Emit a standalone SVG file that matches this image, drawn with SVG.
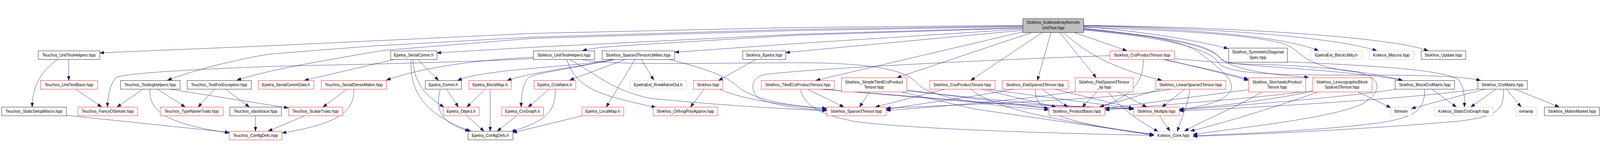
<svg xmlns="http://www.w3.org/2000/svg" width="5167" height="405" viewBox="0 0 5167 405">
<style>
svg{width:100vw;height:100vh}
.node rect{fill:#ffffff;stroke-width:1}
.r rect{stroke:#ff0000}
.k rect{stroke:#000000}
.g rect{stroke:#bfbfbf}
.root rect{fill:#bfbfbf;stroke:#000000}
.node text{font-family:"Liberation Sans",Arial,Helvetica,sans-serif;font-size:13px;fill:#000;text-anchor:middle}
#edges path{fill:none;stroke:#191970;stroke-width:1;marker-end:url(#ah)}
</style>
<defs>
<marker id="ah" markerUnits="userSpaceOnUse" markerWidth="16" markerHeight="12" refX="13" refY="5" orient="auto" overflow="visible">
<path d="M0,0.3 L13,5 L0,9.7 z" fill="#191970" stroke="#191970" stroke-width="1"/>
</marker>
</defs>
<rect x="0" y="0" width="5167" height="405" fill="#ffffff"/>
<g id="edges">
<path d="M3303,29 L2570,36 L1720,55 L870,95 L322,118"/>
<path d="M3303,31 L2570,42 L1720,67 L1200,96 L870,122 C760,140 640,170 541,206"/>
<path d="M3303,33 L2570,46 L1720,71 L1238,110 C1120,130 1016,148 930,165 C850,182 800,195 765,206"/>
<path d="M3303,36 L2570,58 L1720,100 L1411,118"/>
<path d="M3303,38 L2570,61 L2090,90 C1980,97 1920,100 1881,111"/>
<path d="M3303,41 L2570,88 L2179,116"/>
<path d="M3303,45 L2537,117"/>
<path d="M3303,50 L2635,207"/>
<path d="M3333,52 L2897,198"/>
<path d="M3366,52 L3135,207"/>
<path d="M3394,52 L3350,207"/>
<path d="M3422,52 L3540,198"/>
<path d="M3433,52 C3490,100 3560,160 3752,207"/>
<path d="M3469,52 L3639,111"/>
<path d="M3499,33 C3700,50 3850,75 3966,104"/>
<path d="M3499,31 C3900,42 4160,70 4258,111"/>
<path d="M3499,30 C3950,38 4320,70 4446,111"/>
<path d="M3499,29 C4050,36 4500,70 4612,111"/>
<path d="M3499,38 C3700,60 3820,80 3870,115 C3930,160 3990,205 3975,240 C3955,275 3890,290 3809,302"/>
<path d="M3499,40 C3750,65 3890,85 3930,125 C3965,165 4050,185 4226,197"/>
<path d="M3499,42 C3800,70 3920,100 3945,140 C3965,165 4300,165 4530,207"/>
<path d="M3499,44 C3800,72 3910,110 3935,150 C3960,185 4100,188 4300,190 C4500,190 4700,188 4781,207"/>
<path d="M3499,35 C3800,45 4050,60 4150,90 C4210,115 4200,160 4380,180 C4460,195 4470,240 4400,283 C4300,330 4000,360 3853,382"/>
<path d="M222,139 L222,207"/>
<path d="M187,139 C140,170 104,220 104,293"/>
<path d="M244,235 L328,293"/>
<path d="M462,235 L378,293"/>
<path d="M484,235 C482,300 520,345 740,377"/>
<path d="M508,235 L598,293"/>
<path d="M546,235 L931,296"/>
<path d="M693,235 L640,293"/>
<path d="M728,235 L805,293"/>
<path d="M214,320 L740,375"/>
<path d="M825,322 L825,371"/>
<path d="M983,322 L866,371"/>
<path d="M1122,235 L1043,293"/>
<path d="M1143,235 C1143,300 1110,345 911,377"/>
<path d="M1274,139 L983,207"/>
<path d="M1349,139 L1416,207"/>
<path d="M1334,139 C1336,220 1380,260 1433,293"/>
<path d="M1328,139 C1320,250 1380,320 1520,371"/>
<path d="M1442,235 L1480,293"/>
<path d="M1422,235 C1405,300 1420,345 1516,371"/>
<path d="M1567,235 L1508,293"/>
<path d="M1583,235 L1583,371"/>
<path d="M1508,322 L1563,371"/>
<path d="M1668,322 L1606,371"/>
<path d="M1774,235 L1706,293"/>
<path d="M1793,235 C1795,310 1760,340 1652,372"/>
<path d="M1879,322 L1656,376"/>
<path d="M1722,132 C1560,140 1380,160 1248,206"/>
<path d="M1722,136 C1500,150 1000,158 870,162 C600,172 400,185 377,197 C355,215 348,260 347,293"/>
<path d="M1830,139 C1860,220 1900,250 2118,294"/>
<path d="M1839,139 C1930,190 1980,240 2100,265 C2300,285 2500,298 2669,305"/>
<path d="M1878,139 C1950,160 2300,150 2600,150 C2850,152 2930,180 2960,215 C3000,265 3200,290 3386,302"/>
<path d="M2020,139 L1840,206"/>
<path d="M2051,139 L1958,293"/>
<path d="M2071,139 L2111,206"/>
<path d="M1985,139 C1850,165 1560,170 1478,207"/>
<path d="M1989,139 C1850,165 1700,185 1638,207"/>
<path d="M1978,139 C1850,170 1725,182 1705,200 C1688,218 1683,260 1683,293"/>
<path d="M2161,139 C2280,170 2340,190 2380,225 C2430,270 2550,290 2669,297"/>
<path d="M2441,139 L2321,207"/>
<path d="M2274,235 L2230,293"/>
<path d="M2322,235 C2380,262 2500,285 2669,300"/>
<path d="M2607,235 L2725,293"/>
<path d="M2584,235 C2600,290 2640,315 2760,340 C2950,365 3400,378 3726,385"/>
<path d="M2644,235 L3150,275 L3386,297"/>
<path d="M2650,235 L3150,278 L3380,288 L3661,300"/>
<path d="M2808,244 L2776,293"/>
<path d="M2909,244 L3150,300 L3726,383"/>
<path d="M2928,238 L3386,297"/>
<path d="M2928,241 L3380,286 L3661,299"/>
<path d="M3053,235 L2827,293"/>
<path d="M3168,235 L3410,293"/>
<path d="M3183,235 L3659,298"/>
<path d="M3135,235 C3200,290 3350,330 3726,382"/>
<path d="M3277,235 L3150,257 L2862,300"/>
<path d="M3343,235 C3345,300 3380,335 3726,384"/>
<path d="M3364,235 L3448,293"/>
<path d="M3405,235 L3659,297"/>
<path d="M3472,243 C3300,270 3000,295 2862,304"/>
<path d="M3543,244 L3495,293"/>
<path d="M3579,244 C3620,300 3680,340 3740,372"/>
<path d="M3610,244 L3703,293"/>
<path d="M3783,235 C3600,270 3100,285 2862,297"/>
<path d="M3750,235 L3551,293"/>
<path d="M3827,235 L3753,293"/>
<path d="M3843,235 C3835,290 3815,330 3802,372"/>
<path d="M3584,127 C3200,140 2600,170 2470,188 C2420,198 2420,250 2460,270 C2520,292 2600,300 2669,303"/>
<path d="M3692,139 C3695,220 3640,265 3551,293"/>
<path d="M3753,139 C3850,160 3950,180 4031,203"/>
<path d="M3762,139 C3860,163 3960,186 4031,207"/>
<path d="M3792,137 C3900,145 3950,152 4050,155 C4250,160 4400,175 4529,207"/>
<path d="M4157,147 C4400,158 4660,170 4710,205 C4730,230 4730,265 4729,293"/>
<path d="M4032,237 L3569,298"/>
<path d="M4076,244 C4000,290 3900,330 3825,371"/>
<path d="M4238,241 C4000,270 3700,290 3569,303"/>
<path d="M4238,243 C4100,270 3950,290 3809,300"/>
<path d="M4258,244 C4100,300 3950,345 3844,371"/>
<path d="M4385,244 L4491,295"/>
<path d="M4509,235 C4400,255 4100,280 3809,303"/>
<path d="M4623,235 L4703,293"/>
<path d="M4601,235 C4600,300 4580,325 4450,345 C4250,370 4000,380 3853,386"/>
<path d="M4773,235 C4600,260 4250,285 3809,306"/>
<path d="M4797,235 L4558,298"/>
<path d="M4831,235 L4750,293"/>
<path d="M4855,235 C4858,300 4840,325 4700,340 C4400,365 4100,380 3853,388"/>
<path d="M4865,235 L4912,293"/>
<path d="M4891,235 L5035,293"/>
<path d="M3745,322 L3778,371"/>
</g>
<g id="n0" class="node root"><rect x="3303.5" y="7.5" width="196" height="45"/><text x="3401" y="24.5">Stokhos_KokkosArrayKernels</text><text x="3401" y="41.5">UnitTest.hpp</text></g>
<g id="n1" class="node k"><rect x="123.5" y="111.5" width="199" height="28"/><text x="222.5" y="129.5">Teuchos_UnitTestHelpers.hpp</text></g>
<g id="n2" class="node r"><rect x="130.5" y="207.5" width="185" height="28"/><text x="222.5" y="225.5">Teuchos_UnitTestBase.hpp</text></g>
<g id="n3" class="node k"><rect x="389.5" y="207.5" width="192" height="28"/><text x="485" y="225.5">Teuchos_TestingHelpers.hpp</text></g>
<g id="n4" class="node k"><rect x="604.5" y="207.5" width="207" height="28"/><text x="707.5" y="225.5">Teuchos_TestForException.hpp</text></g>
<g id="n5" class="node k"><rect x="5.5" y="293.5" width="209" height="28"/><text x="109.5" y="311.5">Teuchos_StaticSetupMacro.hpp</text></g>
<g id="n6" class="node r"><rect x="251.5" y="293.5" width="193" height="28"/><text x="347.5" y="311.5">Teuchos_FancyOStream.hpp</text></g>
<g id="n7" class="node r"><rect x="517.5" y="293.5" width="203" height="28"/><text x="618.5" y="311.5">Teuchos_TypeNameTraits.hpp</text></g>
<g id="n8" class="node k"><rect x="742.5" y="293.5" width="166" height="28"/><text x="825" y="311.5">Teuchos_stacktrace.hpp</text></g>
<g id="n9" class="node r"><rect x="740.5" y="371.5" width="170" height="28"/><text x="825" y="389.5">Teuchos_ConfigDefs.hpp</text></g>
<g id="n10" class="node k"><rect x="1261.5" y="111.5" width="150" height="28"/><text x="1336" y="129.5">Epetra_SerialComm.h</text></g>
<g id="n11" class="node r"><rect x="834.5" y="207.5" width="179" height="28"/><text x="923.5" y="225.5">Epetra_SerialCommData.h</text></g>
<g id="n12" class="node r"><rect x="1037.5" y="207.5" width="211" height="28"/><text x="1142.5" y="225.5">Teuchos_SerialDenseMatrix.hpp</text></g>
<g id="n13" class="node k"><rect x="1373.5" y="207.5" width="117" height="28"/><text x="1431.5" y="225.5">Epetra_Comm.h</text></g>
<g id="n14" class="node r"><rect x="1514.5" y="207.5" width="137" height="28"/><text x="1582.5" y="225.5">Epetra_BlockMap.h</text></g>
<g id="n15" class="node r"><rect x="931.5" y="293.5" width="175" height="28"/><text x="1018.5" y="311.5">Teuchos_ScalarTraits.hpp</text></g>
<g id="n16" class="node r"><rect x="1431.5" y="293.5" width="116" height="28"/><text x="1489" y="311.5">Epetra_Object.h</text></g>
<g id="n17" class="node r"><rect x="1620.5" y="293.5" width="135" height="28"/><text x="1687.5" y="311.5">Epetra_CrsGraph.h</text></g>
<g id="n18" class="node k"><rect x="1511.5" y="371.5" width="145" height="28"/><text x="1583.5" y="389.5">Epetra_ConfigDefs.h</text></g>
<g id="n19" class="node k"><rect x="1722.5" y="111.5" width="198" height="28"/><text x="1821" y="129.5">Stokhos_UnitTestHelpers.hpp</text></g>
<g id="n20" class="node k"><rect x="1944.5" y="111.5" width="234" height="28"/><text x="2061" y="129.5">Stokhos_Sparse3TensorUtilities.hpp</text></g>
<g id="n21" class="node k"><rect x="2398.5" y="111.5" width="139" height="28"/><text x="2467.5" y="129.5">Stokhos_Epetra.hpp</text></g>
<g id="n22" class="node r"><rect x="1724.5" y="207.5" width="135" height="28"/><text x="1791.5" y="225.5">Epetra_CrsMatrix.h</text></g>
<g id="n23" class="node g"><rect x="2034.5" y="207.5" width="183" height="28"/><text x="2125.5" y="225.5">EpetraExt_RowMatrixOut.h</text></g>
<g id="n24" class="node r"><rect x="2239.5" y="207.5" width="95" height="28"/><text x="2286.5" y="225.5">Stokhos.hpp</text></g>
<g id="n25" class="node r"><rect x="2458.5" y="207.5" width="236" height="28"/><text x="2576" y="225.5">Stokhos_TiledCrsProductTensor.hpp</text></g>
<g id="n26" class="node r"><rect x="1879.5" y="293.5" width="135" height="28"/><text x="1946.5" y="311.5">Epetra_LocalMap.h</text></g>
<g id="n27" class="node r"><rect x="2109.5" y="293.5" width="208" height="28"/><text x="2213" y="311.5">Stokhos_OrthogPolyApprox.hpp</text></g>
<g id="n28" class="node r"><rect x="2717.5" y="198.5" width="211" height="46"/><text x="2822.5" y="216.5">Stokhos_SimpleTiledCrsProduct</text><text x="2822.5" y="233.5">Tensor.hpp</text></g>
<g id="n29" class="node r"><rect x="3002.5" y="207.5" width="211" height="28"/><text x="3107.5" y="225.5">Stokhos_CooProductTensor.hpp</text></g>
<g id="n30" class="node r"><rect x="3236.5" y="207.5" width="213" height="28"/><text x="3342.5" y="225.5">Stokhos_FlatSparse3Tensor.hpp</text></g>
<g id="n31" class="node r"><rect x="2669.5" y="293.5" width="192" height="28"/><text x="2765" y="311.5">Stokhos_Sparse3Tensor.hpp</text></g>
<g id="n32" class="node r"><rect x="3387.5" y="293.5" width="180" height="28"/><text x="3477" y="311.5">Stokhos_ProductBasis.hpp</text></g>
<g id="n33" class="node r"><rect x="3584.5" y="111.5" width="208" height="28"/><text x="3688" y="129.5">Stokhos_CrsProductTensor.hpp</text></g>
<g id="n34" class="node k"><rect x="3967.5" y="102.5" width="190" height="46"/><text x="4062" y="120.5">Stokhos_SymmetricDiagonal</text><text x="4062" y="137.5">Spec.hpp</text></g>
<g id="n35" class="node g"><rect x="4232.5" y="111.5" width="166" height="28"/><text x="4315" y="129.5">EpetraExt_BlockUtility.h</text></g>
<g id="n36" class="node r"><rect x="3472.5" y="198.5" width="187" height="46"/><text x="3565.5" y="216.5">Stokhos_FlatSparse3Tensor</text><text x="3565.5" y="233.5">_kji.hpp</text></g>
<g id="n37" class="node r"><rect x="3732.5" y="207.5" width="226" height="28"/><text x="3845" y="225.5">Stokhos_LinearSparse3Tensor.hpp</text></g>
<g id="n38" class="node r"><rect x="4032.5" y="198.5" width="184" height="46"/><text x="4124" y="216.5">Stokhos_StochasticProduct</text><text x="4124" y="233.5">Tensor.hpp</text></g>
<g id="n39" class="node r"><rect x="4238.5" y="198.5" width="192" height="46"/><text x="4334" y="216.5">Stokhos_LexicographicBlock</text><text x="4334" y="233.5">Sparse3Tensor.hpp</text></g>
<g id="n40" class="node r"><rect x="3661.5" y="293.5" width="147" height="28"/><text x="3734.5" y="311.5">Stokhos_Multiply.hpp</text></g>
<g id="n41" class="node g"><rect x="3726.5" y="371.5" width="126" height="28"/><text x="3789" y="389.5">Kokkos_Core.hpp</text></g>
<g id="n42" class="node g"><rect x="4422.5" y="111.5" width="142" height="28"/><text x="4493" y="129.5">Kokkos_Macros.hpp</text></g>
<g id="n43" class="node k"><rect x="4589.5" y="111.5" width="144" height="28"/><text x="4661" y="129.5">Stokhos_Update.hpp</text></g>
<g id="n44" class="node k"><rect x="4505.5" y="207.5" width="192" height="28"/><text x="4601" y="225.5">Stokhos_BlockCrsMatrix.hpp</text></g>
<g id="n45" class="node k"><rect x="4772.5" y="207.5" width="160" height="28"/><text x="4852" y="225.5">Stokhos_CrsMatrix.hpp</text></g>
<g id="n46" class="node g"><rect x="4491.5" y="293.5" width="67" height="28"/><text x="4524.5" y="311.5">fstream</text></g>
<g id="n47" class="node g"><rect x="4632.5" y="293.5" width="189" height="28"/><text x="4726.5" y="311.5">Kokkos_StaticCrsGraph.hpp</text></g>
<g id="n48" class="node g"><rect x="4895.5" y="293.5" width="67" height="28"/><text x="4928.5" y="311.5">iomanip</text></g>
<g id="n49" class="node k"><rect x="4987.5" y="293.5" width="178" height="28"/><text x="5076.5" y="311.5">Stokhos_MatrixMarket.hpp</text></g>
</svg>
